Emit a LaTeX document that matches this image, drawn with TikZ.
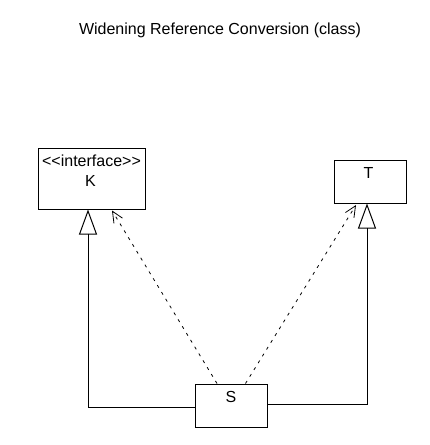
\documentclass[tikz,border=0pt]{standalone}
\usepackage{fontspec}
\setmainfont{Liberation Sans}[Ligatures=TeXOff]
\usetikzlibrary{arrows.meta}
\tikzset{
  umlbox/.style={draw=black,line width=1pt,fill=white,inner sep=0pt},
  lbl/.style={inner sep=0pt,anchor=base,font=\fontsize{16}{19}\selectfont},
  gen/.style={draw=black,line width=1pt,-{Triangle[open,length=25pt,width=18pt,line width=1pt]}},
  dep/.style={draw=black,line width=0.8pt,dash pattern=on 3pt off 5pt,
    -{Straight Barb[length=11pt,width=10pt,line width=0.8pt]}}
}
\begin{document}
\begin{tikzpicture}[x=1pt,y=-1pt]
\useasboundingbox[fill=white] (0,0) rectangle (430,445);
\node[lbl] (title) at (220,34.3) {Widening Reference Conversion (class)};
\node[umlbox,minimum width=107pt,minimum height=61pt] (K) at (91.5,178.5) {};
\node[lbl] (Kst) at (91.5,166.7) {<\kern0pt<interface>\kern0pt>};
\node[lbl] (Kname) at (90.5,186.7) {K};
\node[umlbox,minimum width=72pt,minimum height=43pt] (T) at (370,181.5) {};
\node[lbl] (Tname) at (368.5,178.3) {T};
\node[umlbox,minimum width=72pt,minimum height=43pt] (S) at (231,405.5) {};
\node[lbl] (Sname) at (231,402.2) {S};
\draw[gen] ([yshift=-1.5pt]S.west) -| ([xshift=-3.5pt]K.south);
\draw[gen] ([yshift=1.5pt]S.east) -| ([xshift=-3pt]T.south);
\draw[dep] ([xshift=-14pt]S.north) -- ([xshift=20.5pt,yshift=-1pt]K.south);
\draw[dep] ([xshift=14.5pt]S.north) -- ([xshift=-14pt,yshift=-1.5pt]T.south);
\end{tikzpicture}
\end{document}
